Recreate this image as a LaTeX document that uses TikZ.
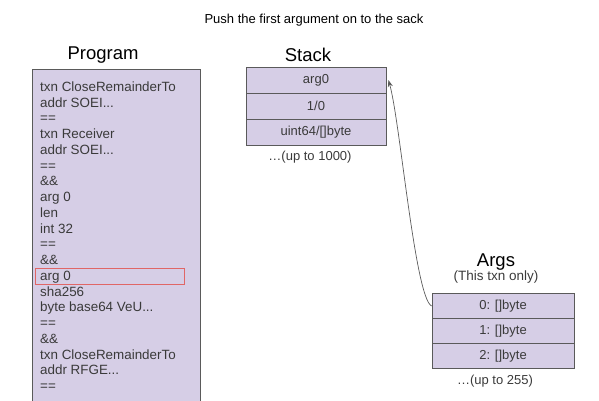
\documentclass[tikz,border=0pt]{standalone}
\usepackage{fontspec}
\setmainfont{Liberation Sans}
\usetikzlibrary{arrows.meta}
\definecolor{cellfill}{HTML}{D6CEE6}
\definecolor{cellline}{HTML}{5A5A5A}
\definecolor{txt}{HTML}{3A3A3A}
\definecolor{hl}{HTML}{E06666}
\newcommand\mydots{...}
\tikzset{
  cell/.style={draw=cellline, fill=cellfill, line width=0.8pt, minimum width=140pt, minimum height=26pt, inner sep=0pt, text=txt, font=\fontsize{13}{15}\selectfont},
  progline/.style={anchor=west, inner sep=0pt, text height=9.6pt, text depth=0pt, text=txt, font=\fontsize{13.4}{15}\selectfont},
  title/.style={inner sep=0pt, font=\fontsize{18.5}{20}\selectfont},
  note/.style={inner sep=0pt, text=black, font=\fontsize{13}{15}\selectfont},
}
\begin{document}
\begin{tikzpicture}[x=1pt,y=-1pt]
\useasboundingbox (0,0) rectangle (599,401);
% heading
\node[note] (head) at (314,20) {Push the first argument on to the sack};
% Program
\node[title] (progtitle) at (103,55) {Program};
\fill[cellfill] (32,69) rectangle (200,401);
\draw[cellline, line width=0.8pt] (32,401) -- (32,69) -- (200,69) -- (200,401);
\foreach \t [count=\i from 0] in {txn CloseRemainderTo, addr SOEI\mydots, ==, txn Receiver, addr SOEI\mydots, ==, \&\&, arg 0, len, int 32, ==, \&\&, arg 0, sha256, byte base64 VeU\mydots, ==, \&\&, txn CloseRemainderTo, addr RFGE\mydots, ==}
  \node[progline] (p\i) at (40,{86.5+\i*15.75}) {\t};
\draw[hl, line width=1pt] (35,268) rectangle (184,284.5);
% Stack
\node[title] (stacktitle) at (308,55) {Stack};
\node[cell] (s0) at (316,80) {arg0};
\node[cell] (s1) at (316,106) {1/0};
\node[cell] (s2) at (316,132) {uint64/[]byte};
\node[note, text=txt] (smore) at (310,157) {\ldots(up to 1000)};
% Args
\node[title] (argstitle) at (496,262) {Args};
\node[note, text=txt, font=\fontsize{13.5}{15}\selectfont] (argsub) at (496,277) {(This txn only)};
\node[cell, minimum width=142pt, minimum height=25pt] (a0) at (503,306) {0: []byte};
\node[cell, minimum width=142pt, minimum height=25pt] (a1) at (503,331) {1: []byte};
\node[cell, minimum width=142pt, minimum height=25pt] (a2) at (503,356) {2: []byte};
\node[note, text=txt] (amore) at (495,381) {\ldots(up to 255)};
% connector
\draw[cellline, line width=0.7pt, -{Stealth[length=7pt,width=5pt]}] (a0.west) .. controls (415,298) and (400,120) .. ([xshift=2pt]s0.east);
\end{tikzpicture}
\end{document}
